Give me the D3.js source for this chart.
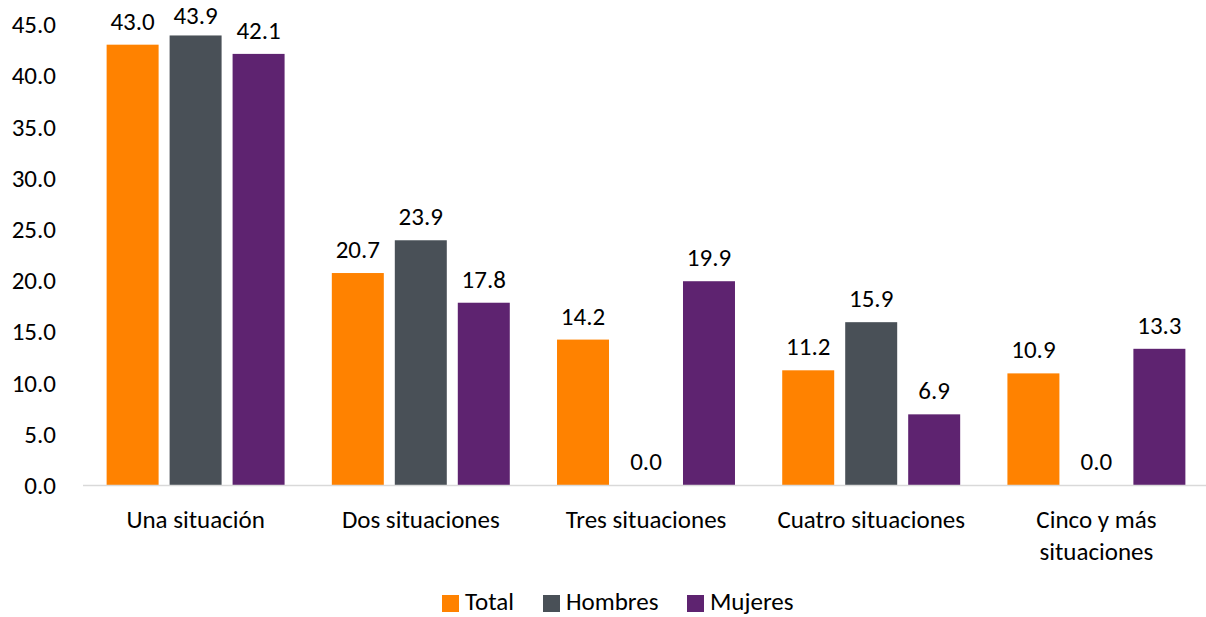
<!DOCTYPE html>
<html><head><meta charset="utf-8">
<script src="https://cdn.jsdelivr.net/npm/d3@7"></script>
<style>body{margin:0;background:#fff}svg{display:block}text{font-family:Carlito,Calibri,Lato,sans-serif;fill:#000}</style>
</head><body>
<script>
const categories = ["Una situación", "Dos situaciones", "Tres situaciones", "Cuatro situaciones", "Cinco y más|situaciones"];
const seriesNames = ["Total", "Hombres", "Mujeres"];
const total = [43.0, 20.7, 14.2, 11.2, 10.9];
const hombres = [43.9, 23.9, 0.0, 15.9, 0.0];
const mujeres = [42.1, 17.8, 19.9, 6.9, 13.3];
const yTicks = [0, 5, 10, 15, 20, 25, 30, 35, 40, 45];
const colors = ["#FF8200", "#495057", "#5E2370"];

const W = 1206, H = 617;
const fs = 25;
const svg = d3.select("body").append("svg").attr("width", W).attr("height", H);
const series = [total, hombres, mujeres];

const x = d3.scaleBand().domain(categories).range([83, 1209]).padding(0);
const xs = d3.scaleBand().domain(seriesNames).range([0, x.bandwidth()]).paddingInner(0.1746).paddingOuter(0.375);
const y = d3.scaleLinear().domain([0, 45]).range([485, 24.2]);

// y axis labels
const yAxis = svg.append("g").attr("transform", "translate(56,0)")
  .call(d3.axisLeft(y).tickValues(yTicks).tickFormat(d3.format(".1f")).tickSize(0).tickPadding(0));
yAxis.select(".domain").remove();
yAxis.selectAll("text").attr("font-size", fs).attr("font-family", null).attr("fill", "#000").attr("dy", "0.34em");

// bars
const groups = svg.append("g").selectAll("g").data(categories).join("g")
  .attr("transform", d => `translate(${x(d)},0)`);
groups.selectAll("rect").data((d, i) => seriesNames.map((s, j) => ({s, v: series[j][i]})))
  .join("rect")
  .attr("x", d => xs(d.s)).attr("width", xs.bandwidth())
  .attr("y", d => y(d.v)).attr("height", d => y(0) - y(d.v))
  .attr("fill", (d, j) => colors[j]);
groups.selectAll("text.val").data((d, i) => seriesNames.map((s, j) => ({s, v: series[j][i]})))
  .join("text").attr("class", "val")
  .attr("x", d => xs(d.s) + xs.bandwidth() / 2)
  .attr("y", d => Math.max(y(d.v) - 15, 24))
  .attr("text-anchor", "middle").attr("font-size", fs)
  .text(d => d.v.toFixed(1));

// x axis line
svg.append("line").attr("x1", 83).attr("x2", 1209).attr("y1", y(0) + 0.5).attr("y2", y(0) + 0.5)
  .attr("stroke", "#d9d9d9").attr("stroke-width", 1.5);

// category labels
svg.append("g").selectAll("text").data(categories).join("text")
  .attr("x", d => x(d) + x.bandwidth() / 2).attr("y", 528)
  .attr("text-anchor", "middle").attr("font-size", fs)
  .each(function(d) {
    const lines = d.split("|");
    d3.select(this).selectAll("tspan").data(lines).join("tspan")
      .attr("x", x(d) + x.bandwidth() / 2).attr("dy", (l, i) => i ? 32 : 0).text(l => l);
  });

// legend
const legendX = [442, 543, 687];
const lg = svg.append("g").selectAll("g").data(seriesNames).join("g")
  .attr("transform", (d, i) => `translate(${legendX[i]},595)`);
lg.append("rect").attr("width", 17).attr("height", 17).attr("fill", (d, i) => colors[i]);
lg.append("text").attr("x", 23).attr("y", 15).attr("font-size", fs).text(d => d);
</script>
</body></html>
